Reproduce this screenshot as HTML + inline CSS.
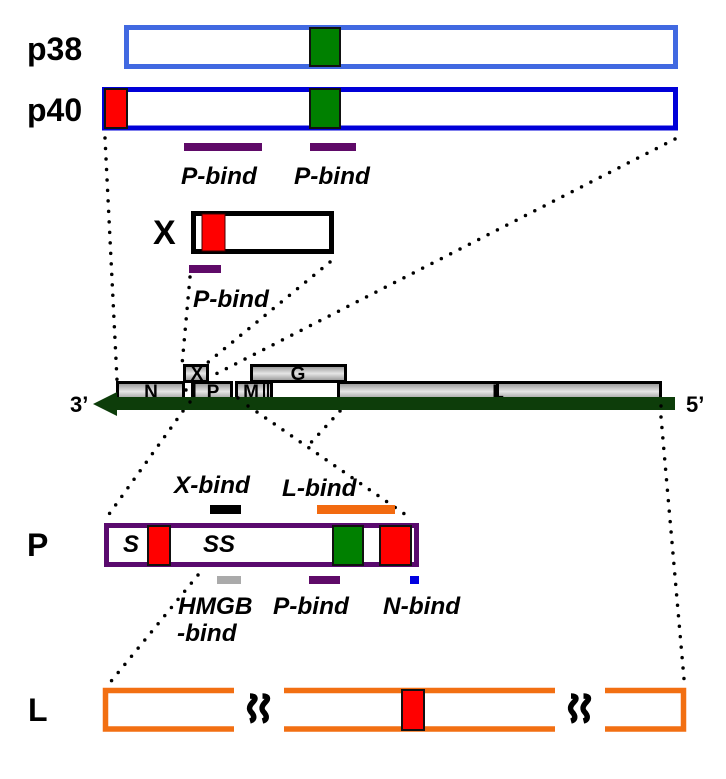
<!DOCTYPE html>
<html><head><meta charset="utf-8"><style>
html,body{margin:0;padding:0;background:#fff}
svg{display:block}
text{font-family:"Liberation Sans",sans-serif;font-weight:bold;fill:#000}
.b{font-size:24.400px;font-style:italic}
.h{font-size:32px}
.g{font-size:19px}
.d{fill:none;stroke:#000;stroke-width:3.500;stroke-linecap:round;stroke-dasharray:0 10.500}
.s{stroke:#111;stroke-width:2}
.gene{fill:url(#gr);stroke:#000;stroke-width:3}
</style></head><body>
<svg width="726" height="779" viewBox="0 0 726 779" xmlns="http://www.w3.org/2000/svg">
<defs><linearGradient id="gr" x1="0" y1="0" x2="0" y2="1"><stop offset="0" stop-color="#8e8e8e"/><stop offset=".5" stop-color="#e6e6e6"/><stop offset="1" stop-color="#8e8e8e"/></linearGradient></defs>

<!-- dotted connectors -->
<path class="d" d="M105 138L117 380"/>
<path class="d" d="M675 139L208 378"/>
<path class="d" d="M190 277L182 365"/>
<path class="d" d="M330 262L190 377"/>
<path class="d" d="M183 411L107 517"/>
<path class="d" d="M257 412L409 517"/>
<path class="d" d="M340 411L306 448"/>
<path class="d" d="M198 575L108 685"/>
<path class="d" d="M661 417L684 679"/>

<!-- p38 -->
<text class="h" x="27" y="60">p38</text>
<rect x="126.500" y="27.500" width="549" height="39" fill="#fff" stroke="#4169e1" stroke-width="5"/>
<rect class="s" x="310" y="28" width="30" height="38" fill="#008000"/>

<!-- p40 -->
<text class="h" x="27" y="121">p40</text>
<rect x="104.500" y="89.500" width="571" height="38.500" fill="#fff" stroke="#0000d8" stroke-width="5"/>
<rect class="s" x="105" y="89" width="22" height="39" fill="#f00"/>
<rect class="s" x="310" y="89" width="30" height="39" fill="#008000"/>
<rect x="184" y="143" width="78" height="8" fill="#5f0a68"/>
<rect x="310" y="143" width="46" height="8" fill="#5f0a68"/>
<text class="b" x="181" y="184">P-bind</text>
<text class="b" x="294" y="184">P-bind</text>

<!-- X -->
<text x="153" y="244" style="font-size:34px">X</text>
<rect x="193.500" y="213.500" width="138" height="38" fill="#fff" stroke="#000" stroke-width="5"/>
<rect x="202" y="214" width="23" height="37" fill="#f00" stroke="#400" stroke-width="1"/>
<rect x="189" y="265" width="32" height="8" fill="#5f0a68"/>
<text class="b" x="193" y="307">P-bind</text>

<!-- genome -->
<rect class="gene" x="117.500" y="382.500" width="66" height="18"/>
<rect class="gene" x="192.500" y="382.500" width="39" height="18"/>
<path d="M194 382V398" stroke="#000" stroke-width="3"/>
<rect class="gene" x="236.500" y="382.500" width="35" height="18"/>
<path d="M264 382V398M268 382V398" stroke="#000" stroke-width="2"/>
<rect class="gene" x="338.500" y="382.500" width="322" height="18"/>
<path d="M497.500 382V398" stroke="#000" stroke-width="3"/>
<rect class="gene" x="184.500" y="365.500" width="23" height="16"/>
<rect class="gene" x="251.500" y="365.500" width="94" height="16"/>
<text class="g" x="151" y="398" text-anchor="middle">N</text>
<text class="g" x="213" y="398" text-anchor="middle">P</text>
<text class="g" x="251" y="398" text-anchor="middle">M</text>
<text class="g" x="197" y="380" text-anchor="middle">X</text>
<text class="g" x="298" y="380" text-anchor="middle">G</text>
<text class="g" x="498" y="398" text-anchor="middle">L</text>
<path d="M93 404L117 392V397H675V410H117V416Z" fill="#0d3d0a"/>
<text x="70" y="412" style="font-size:22px">3’</text>
<text x="686" y="412" style="font-size:22px">5’</text>
<g fill="#000"><circle cx="186" cy="390" r="1.700"/><circle cx="190" cy="402" r="1.700"/><circle cx="238" cy="398" r="1.700"/><circle cx="248" cy="406" r="1.700"/><circle cx="661" cy="406" r="1.700"/></g>

<!-- P -->
<text x="174" y="493" class="b">X-bind</text>
<text x="282" y="496" class="b">L-bind</text>
<rect x="210" y="505" width="31" height="9" fill="#000"/>
<rect x="317" y="505" width="78" height="9" fill="#f26a10"/>
<text class="h" x="27" y="556">P</text>
<rect x="106.500" y="525.500" width="310" height="39" fill="#fff" stroke="#5a0a6e" stroke-width="5"/>
<rect class="s" x="148" y="526" width="22" height="39" fill="#f00"/>
<rect class="s" x="333" y="526" width="30" height="39" fill="#008000"/>
<rect class="s" x="380" y="526" width="31" height="39" fill="#f00"/>
<text class="b" x="123" y="552" style="font-size:24px">S</text>
<text class="b" x="203" y="552" style="font-size:24px">SS</text>
<rect x="217" y="576" width="24" height="8" fill="#aaa"/>
<rect x="309" y="576" width="31" height="8" fill="#5f0a68"/>
<rect x="410" y="576" width="9" height="8" fill="#0000e0"/>
<text class="b" x="178" y="614">HMGB</text>
<text class="b" x="177" y="641">-bind</text>
<text class="b" x="273" y="614">P-bind</text>
<text class="b" x="383" y="614">N-bind</text>

<!-- L -->
<text class="h" x="28" y="721">L</text>
<path d="M234 690.500H105.500V729H234" fill="none" stroke="#f26f12" stroke-width="5.500"/>
<path d="M284 690.500H555M284 729H555" fill="none" stroke="#f26f12" stroke-width="5.500"/>
<path d="M605 690.500H683.500V729H605" fill="none" stroke="#f26f12" stroke-width="5.500"/>
<rect class="s" x="402" y="690" width="22" height="40" fill="#f00"/>
<g fill="none" stroke="#000" stroke-width="5.500">
<path id="q" d="M250 696C256 696 256 699 253 702C248 707 249 710 252 713C255 717 254 720 250 721"/>
<path d="M262.500 696C268.500 696 268.500 699 265.500 702C260.500 707 261.500 710 264.500 713C267.500 717 266.500 720 262.500 721"/>
<path d="M571 696C577 696 577 699 574 702C569 707 570 710 573 713C576 717 575 720 571 721"/>
<path d="M583.500 696C589.500 696 589.500 699 586.500 702C581.500 707 582.500 710 585.500 713C588.500 717 587.500 720 583.500 721"/>
</g>
</svg>
</body></html>
